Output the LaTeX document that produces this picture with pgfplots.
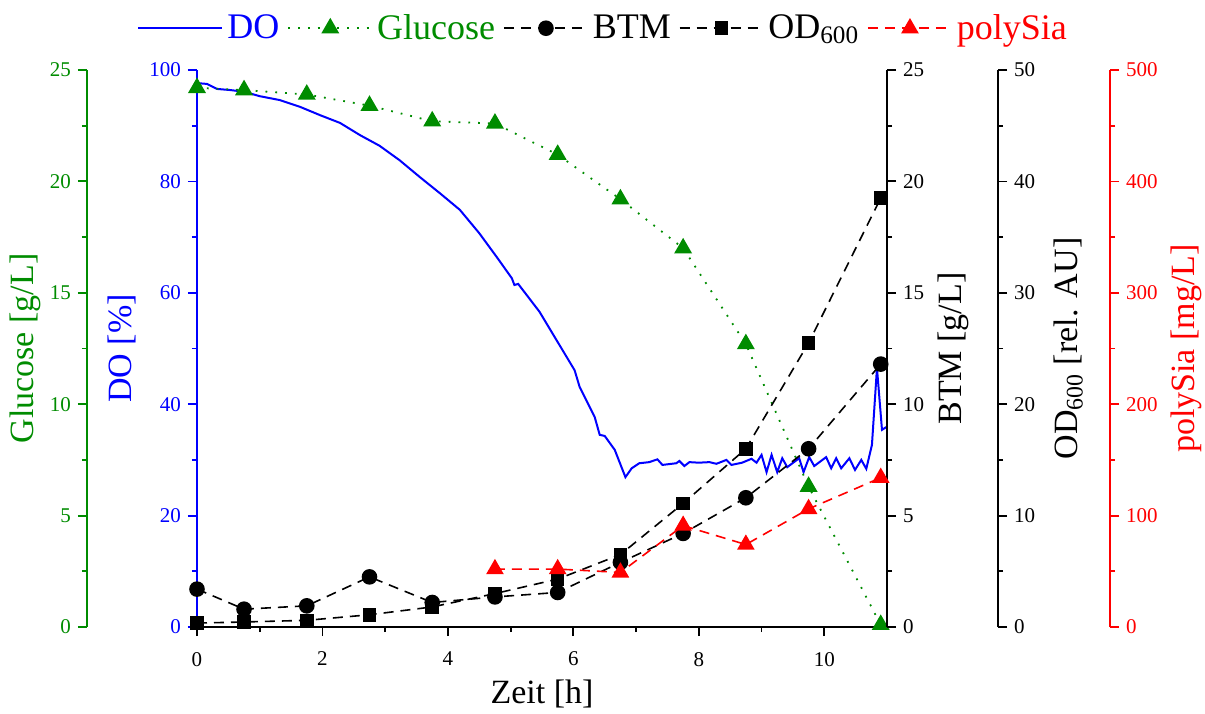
\documentclass[border=0pt]{standalone}
\usepackage{fontspec}
\setmainfont{Liberation Serif}
\usepackage{pgfplots}
\pgfplotsset{compat=1.18}
\definecolor{gl}{RGB}{0,140,0}

\pgfplotsset{
  common/.style={
    scale only axis, x=31.3636pt, height=278.5pt,
    ymin=0,
    tick align=outside,
    major tick length=4.5pt, minor tick length=2.5pt,
    tick label style={font=\fontsize{10.5}{12}\selectfont},
    label style={font=\fontsize{17}{20}\selectfont},
    /pgf/number format/assume math mode=true,
    minor y tick num=1,
    clip=false,
  },
  ycol/.style={
    y axis line style={#1, line width=1pt},
    ytick style={#1, line width=0.9pt},
    yticklabel style={#1},
    ylabel style={#1},
  },
  dash/.style={black, line width=0.8pt, dash pattern=on 5pt off 3.5pt},
}

\begin{document}
\begin{tikzpicture}

% DO (main axis, carries x axis and legend)
\begin{axis}[common, ycol=blue,
  at={(0pt,0pt)}, anchor=south west,
  xmin=0, xmax=11, ymax=100,
  axis x line*=bottom, axis y line*=left,
  x axis line style={black, line width=1pt},
  xtick style={black, line width=0.9pt},
  xticklabel style={yshift=-4.5pt},
  xtick={0,2,...,10}, minor x tick num=1,
  ytick={0,20,...,100},
  xlabel={Zeit [h]}, ylabel={DO [\%]},
  legend style={draw=none, fill=none, at={(0.59,1.075)}, anchor=center,
    legend columns=-1, font=\fontsize{18}{20}\selectfont,
    /tikz/every even column/.append style={column sep=2pt}},
  legend image code/.code={\draw[mark repeat=2,mark phase=2]
    plot coordinates {(0pt,0pt) (21pt,0pt) (42pt,0pt)};},
]
\addplot[blue, line width=1pt] coordinates {
(0.00,97.5) (0.05,97.6) (0.16,97.5) (0.32,96.6) (0.53,96.4) (0.75,96.1)
(1.00,95.3) (1.32,94.6) (1.64,93.4) (1.96,91.9) (2.28,90.5) (2.60,88.3)
(2.91,86.4) (3.23,83.8) (3.55,80.8) (3.87,77.9) (4.19,74.9) (4.50,70.7)
(4.78,66.4) (5.02,62.6) (5.06,61.4) (5.12,61.6) (5.46,56.6) (5.78,50.6)
(6.02,46.1) (6.10,43.1) (6.26,39.5) (6.34,37.7) (6.42,34.5) (6.50,34.3)
(6.66,31.8) (6.83,26.9) (6.93,28.5) (7.05,29.4) (7.21,29.6) (7.34,30.1)
(7.42,29.1) (7.64,29.4) (7.69,29.8) (7.77,28.9) (7.85,29.6) (8.00,29.5)
(8.17,29.6) (8.28,29.3) (8.44,30.0) (8.52,29.1) (8.69,29.5) (8.84,30.2)
(8.92,29.5) (9.00,30.9) (9.08,27.8) (9.16,30.9) (9.25,27.8) (9.33,30.3)
(9.41,28.7) (9.60,30.3) (9.67,27.8) (9.76,30.5) (9.84,28.9) (10.03,30.5)
(10.11,28.5) (10.19,30.3) (10.27,28.5) (10.40,30.3) (10.49,28.2) (10.59,30.0)
(10.67,28.4) (10.76,32.7) (10.84,46.5) (10.92,35.4) (10.99,35.9)
};
\addlegendentry{\textcolor{blue}{DO}}
\addlegendimage{gl, line width=0.9pt, dash pattern=on 0.9pt off 4pt, mark=triangle*, mark size=4.3pt, mark options={solid}}
\addlegendentry{\textcolor{gl}{Glucose}}
\addlegendimage{dash, mark=*, mark size=3.5pt, mark options={solid}}
\addlegendentry{BTM}
\addlegendimage{dash, mark=square*, mark size=3pt, mark options={solid}}
\addlegendentry{OD\textsubscript{600}}
\addlegendimage{red, line width=0.8pt, dash pattern=on 5pt off 3.5pt, mark=triangle*, mark size=4.3pt, mark options={solid}}
\addlegendentry{\textcolor{red}{polySia}}
\end{axis}

% Glucose (offset left axis)
\begin{axis}[common, ycol=gl,
  at={(-55pt,0pt)}, anchor=south west,
  xmin=-1.7536, xmax=11, ymax=25,
  hide x axis, axis y line*=left,
  ytick={0,5,...,25},
  ylabel={Glucose [g/L]}, ylabel shift=-2.5pt,
]
\addplot[gl, line width=0.9pt, dash pattern=on 0.9pt off 4pt, mark=triangle*, mark size=4.3pt, mark options={solid}] coordinates {
(0,24.2) (0.75,24.1) (1.75,23.9) (2.75,23.4) (3.75,22.7) (4.75,22.6)
(5.75,21.2) (6.75,19.2) (7.75,17.0) (8.75,12.7) (9.75,6.3) (10.9,0.1)
};
\end{axis}

% BTM (right axis at plot edge)
\begin{axis}[common, ycol=black,
  at={(0pt,0pt)}, anchor=south west,
  xmin=0, xmax=11, ymax=25,
  hide x axis, axis y line*=right,
  ytick={0,5,...,25},
  ylabel={BTM [g/L]},
]
\addplot[dash, mark=*, mark size=3.5pt, mark options={solid}] coordinates {
(0,1.7) (0.75,0.8) (1.75,0.95) (2.75,2.25) (3.75,1.1) (4.75,1.35)
(5.75,1.55) (6.75,2.9) (7.75,4.2) (8.75,5.8) (9.75,8.0) (10.9,11.8)
};
\end{axis}

% OD600 (offset right axis)
\begin{axis}[common, ycol=black,
  at={(0pt,0pt)}, anchor=south west,
  xmin=0, xmax=12.7696, ymax=50,
  hide x axis, axis y line*=right,
  ytick={0,10,...,50},
  ylabel={OD\textsubscript{600} [rel. AU]}, ylabel shift=2.5pt,
]
\addplot[dash, mark=square*, mark size=3pt, mark options={solid}] coordinates {
(0,0.35) (0.75,0.45) (1.75,0.6) (2.75,1.1) (3.75,1.8) (4.75,3.0)
(5.75,4.3) (6.75,6.5) (7.75,11.1) (8.75,16.0) (9.75,25.5) (10.9,38.5)
};
\end{axis}

% polySia (outer right axis)
\begin{axis}[common, ycol=red,
  at={(0pt,0pt)}, anchor=south west,
  xmin=0, xmax=14.555, ymax=500,
  hide x axis, axis y line*=right,
  ytick={0,100,...,500},
  ylabel={polySia [mg/L]},
]
\addplot[red, line width=0.8pt, dash pattern=on 5pt off 3.5pt, mark=triangle*, mark size=4.3pt, mark options={solid}] coordinates {
(4.75,52) (5.75,52) (6.75,49) (7.75,91) (8.75,74) (9.75,106) (10.9,134)
};
\end{axis}

\pgfresetboundingbox
\useasboundingbox (-98.5pt,-43pt) rectangle (504pt,313.5pt);
\end{tikzpicture}
\end{document}
